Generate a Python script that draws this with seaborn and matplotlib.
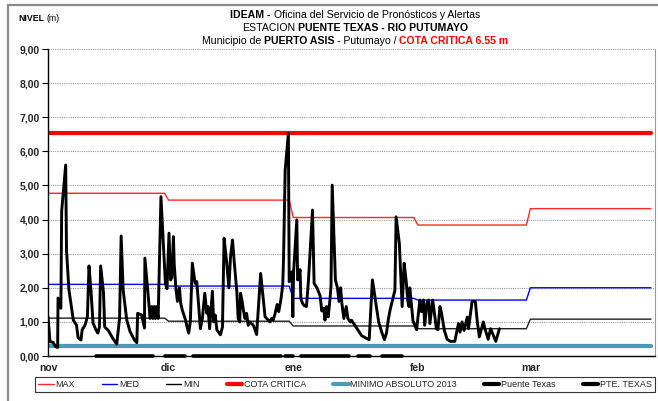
import numpy as np
import pandas as pd
import matplotlib
matplotlib.use("Agg")
import matplotlib.pyplot as plt
import matplotlib.dates as mdates
from matplotlib.lines import Line2D
from matplotlib.patches import Rectangle
import seaborn as sns

# ---------------- data ----------------
inicio = pd.Timestamp("2013-11-01")
fin = pd.Timestamp("2014-04-01")

# monthly reference levels (Oct..Mar)
meses = ["2013-10", "2013-11", "2013-12", "2014-01", "2014-02", "2014-03"]
nivel_max = [4.60, 4.77, 4.57, 4.06, 3.84, 4.32]
nivel_med = [2.00, 2.10, 2.05, 1.69, 1.64, 2.00]
nivel_min = [1.15, 1.11, 1.02, 0.88, 0.80, 1.08]

cota_critica = 6.55
minimo_absoluto_2013 = 0.30

# axis month labels
meses_eje = ["2013-11-01", "2013-12-01", "2014-01-01", "2014-02-01", "2014-03-01"]
etiquetas_eje = ["nov", "dic", "ene", "feb", "mar"]

# station readings: day offset from 1 Nov 2013 and level (m)
dia_lectura = [
    0.0, 0.5, 1.3, 1.8, 2.4, 2.5, 3.2, 3.4, 4.4, 4.6, 5.2, 6.3, 7.1, 7.5, 8.2,
    8.5, 9.2, 9.8, 10.2, 10.7, 11.2, 11.9, 12.4, 12.8, 13.1, 13.8, 14.1, 15.0,
    16.2, 17.1, 17.8, 18.2, 18.7, 19.6, 20.4, 21.5, 22.1, 22.3, 23.3, 24.0,
    24.1, 24.8, 25.4, 25.8, 26.1, 26.4, 26.7, 27.0, 27.4, 28.1, 28.9, 29.2,
    29.6, 30.1, 30.5, 30.8, 31.2, 31.4, 31.8, 32.2, 32.7, 33.0, 33.4, 34.2,
    34.6, 35.0, 35.4, 35.9, 36.6, 37.0, 37.5, 37.9, 38.4, 39.0, 39.5, 39.8,
    40.2, 40.9, 41.2, 41.6, 42.0, 42.9, 43.4, 43.8, 44.4, 45.0, 45.4, 45.9,
    46.3, 47.0, 47.3, 47.7, 47.9, 48.3, 48.6, 49.0, 49.4, 49.8, 50.1, 51.1,
    51.9, 52.9, 53.4, 54.0, 54.8, 55.2, 55.6, 56.0, 56.4, 57.0, 57.4, 57.7,
    58.0, 58.4, 58.6, 59.0, 59.8, 60.0, 60.4, 60.7, 60.9, 61.1, 61.9, 62.1,
    62.4, 62.7, 62.9, 63.3, 63.7, 64.3, 64.8, 65.8, 66.2, 66.9, 67.7, 68.1,
    68.6, 68.9, 69.3, 69.7, 70.1, 70.4, 70.7, 71.5, 72.0, 72.4, 72.8, 73.1,
    73.6, 74.2, 74.6, 75.2, 75.5, 76.9, 78.0, 79.0, 79.9, 80.7, 81.2, 81.8,
    82.3, 83.1, 83.7, 84.2, 84.7, 85.1, 85.9, 86.3, 86.6, 87.4, 88.1, 88.6,
    89.1, 89.5, 89.8, 90.0, 90.8, 91.7, 92.5, 92.9, 93.4, 93.7, 94.3, 94.7,
    95.0, 95.7, 96.3, 96.6, 97.0, 97.5, 97.9, 98.6, 99.3, 100.1, 101.2, 102.1,
    102.5, 103.0, 103.5, 104.3, 104.6, 105.5, 106.3, 106.8, 107.3, 108.3,
    108.7, 109.5, 110.1, 111.4, 112.3,
]
nivel_puente = [
    1.15, 0.42, 0.40, 0.28, 0.25, 1.70, 1.40, 4.25, 5.60, 3.10, 1.95, 1.05, 0.90, 0.53, 0.47,
    0.77, 0.90, 1.15, 2.64, 1.90, 0.97, 0.77, 0.67, 0.85, 2.64, 1.87, 0.85, 0.75,
    0.50, 0.35, 1.10, 3.52, 1.93, 1.05, 0.72, 0.47, 0.39, 1.25, 1.20, 0.82,
    2.87, 1.95, 1.10, 1.45, 1.10, 1.45, 1.10, 1.45, 1.10, 4.67, 2.80, 2.13,
    1.97, 3.60, 2.23, 2.30, 3.50, 2.70, 2.00, 1.60, 2.00, 1.55, 1.35, 1.06,
    0.85, 0.67, 1.00, 2.72, 2.13, 2.18, 1.45, 0.80, 1.10, 1.84, 1.25, 1.45,
    0.80, 1.90, 1.00, 1.20, 0.77, 0.62, 0.85, 3.45, 2.80, 2.00, 2.90, 3.40,
    2.80, 1.84, 1.10, 1.00, 1.84, 1.60, 1.35, 1.10, 1.25, 0.90, 1.00, 0.90,
    0.63, 2.42, 1.84, 1.15, 1.05, 1.00, 1.10, 1.05, 1.20, 1.51, 1.30, 1.50,
    1.70, 2.10, 2.90, 5.45, 6.53, 2.18, 2.42, 2.47, 1.15, 2.47, 3.99, 2.23,
    2.30, 2.53, 1.68, 1.55, 1.48, 1.45, 2.23, 4.28, 2.13, 2.00, 1.76, 1.32,
    1.40, 1.05, 1.45, 1.15, 1.60, 2.05, 5.01, 2.23, 2.00, 1.60, 2.00, 1.55,
    1.10, 1.45, 1.10, 1.00, 1.05, 0.80, 0.60, 0.53, 0.48, 2.23, 1.84, 1.35,
    0.98, 0.67, 0.48, 0.67, 1.10, 1.35, 1.73, 1.93, 4.08, 3.30, 1.45, 2.72,
    2.20, 1.62, 1.45, 2.00, 1.03, 0.77, 1.64, 1.30, 1.64, 0.90, 1.58, 1.64,
    0.95, 1.64, 1.10, 0.80, 0.77, 1.45, 1.25, 0.75, 0.49, 0.43, 0.43, 0.95,
    0.70, 1.00, 0.75, 1.14, 0.80, 1.60, 1.60, 1.00, 0.56, 1.00,
    0.80, 0.49, 0.80, 0.43, 0.80,
]

# days logged with zero level for the PTE. TEXAS gauge
pte_texas_periodos = [
    ("2013-11-13", "2013-11-27"), ("2013-11-30", "2013-12-05"),
    ("2013-12-07", "2013-12-29"), ("2013-12-30", "2014-01-01"),
    ("2014-01-03", "2014-01-15"), ("2014-01-17", "2014-01-20"),
    ("2014-01-23", "2014-01-28"),
]

# ---------------- tables ----------------
dias = pd.date_range("2013-10-31", "2014-03-31", freq="D")
periodo = dias.to_period("M").astype(str)
ref = pd.DataFrame({"fecha": dias})
ref["MAX"] = periodo.map(dict(zip(meses, nivel_max)))
ref["MED"] = periodo.map(dict(zip(meses, nivel_med)))
ref["MIN"] = periodo.map(dict(zip(meses, nivel_min)))
ref["COTA"] = cota_critica
ref["MINABS"] = minimo_absoluto_2013

lecturas = pd.DataFrame({
    "fecha": inicio + pd.to_timedelta(np.array(dia_lectura), unit="D"),
    "nivel": nivel_puente,
})

tramos = []
for i, (a, b) in enumerate(pte_texas_periodos):
    f = pd.date_range(a, b, freq="D")
    tramos.append(pd.DataFrame({"fecha": f, "nivel": 0.0, "tramo": i}))
pte = pd.concat(tramos, ignore_index=True)

# ---------------- figure ----------------
sns.set_theme(style="white")
plt.rcParams["font.family"] = ["Liberation Sans", "DejaVu Sans"]

W, H = 658, 401
fig = plt.figure(figsize=(W / 100, H / 100), dpi=100)
fig.patch.set_facecolor("white")

# outer frame
fig.add_artist(Rectangle((8 / W, -0.05), 1.1, 1 - 5 / H + 0.05, transform=fig.transFigure,
                         fill=False, edgecolor="#8a8a8a", lw=1.6))

ax = fig.add_axes([48 / W, 45 / H, 607 / W, 307 / H])
ax.set_facecolor("white")

c_teal = "#4a9bb5"
sns.lineplot(data=ref, x="fecha", y="MINABS", ax=ax, color=c_teal, lw=3.0, legend=False)
sns.lineplot(data=ref, x="fecha", y="COTA", ax=ax, color="#ff0000", lw=3.0, legend=False)
sns.lineplot(data=ref, x="fecha", y="MAX", ax=ax, color="#ff2828", lw=1.0, legend=False)
sns.lineplot(data=ref, x="fecha", y="MED", ax=ax, color="#0000ff", lw=1.0, legend=False)
sns.lineplot(data=ref, x="fecha", y="MIN", ax=ax, color="#202020", lw=1.0, legend=False)
sns.lineplot(data=lecturas, x="fecha", y="nivel", ax=ax, color="black", lw=2.1,
             sort=False, estimator=None, legend=False)
n_antes = len(ax.lines)
sns.lineplot(data=pte, x="fecha", y="nivel", units="tramo", ax=ax, color="black", lw=2.6,
             estimator=None, legend=False)
for ln in ax.lines[n_antes:]:
    ln.set_clip_on(False)

ax.set_xlim(inicio, fin)
ax.set_ylim(0, 9)
ax.set_xlabel("")
ax.set_ylabel("")

ax.set_yticks(np.arange(0, 10, 1))
ax.yaxis.set_major_formatter(plt.FuncFormatter(lambda v, p: f"{v:.2f}".replace(".", ",")))
ax.set_xticks(pd.to_datetime(meses_eje))
ax.set_xticklabels(etiquetas_eje)
ax.tick_params(axis="y", which="major", direction="out", length=4, width=0.8,
               color="black", labelsize=7.5, pad=2, left=True)
ax.tick_params(axis="x", which="major", direction="out", length=0, labelsize=7.5, pad=5)
for lab in ax.get_yticklabels() + ax.get_xticklabels():
    lab.set_fontweight("bold")

ax.yaxis.grid(True, linestyle=(0, (1, 1)), color="#9a9a9a", lw=0.8)
ax.xaxis.grid(False)
ax.spines["top"].set_visible(False)
ax.spines["right"].set_color("#9a9a9a")
ax.spines["right"].set_linewidth(0.8)
ax.spines["left"].set_color("black")
ax.spines["bottom"].set_color("black")
ax.spines["left"].set_linewidth(1.0)
ax.spines["bottom"].set_linewidth(1.0)

# ---------------- titles ----------------
renderer = fig.canvas.get_renderer()


def linea_rica(y_px, partes, size, cx_px=355):
    probe = fig.text(0, 0, "x x", fontsize=size)
    probe2 = fig.text(0, 0, "xx", fontsize=size)
    esp = probe.get_window_extent(renderer).width - probe2.get_window_extent(renderer).width
    probe.remove()
    probe2.remove()
    items = []
    for txt, peso, col in partes:
        t = fig.text(0, 1 - y_px / H, txt, fontsize=size, fontweight=peso, color=col,
                     ha="left", va="baseline")
        items.append((t, t.get_window_extent(renderer).width))
    total = sum(w for _, w in items) + esp * (len(items) - 1)
    x = cx_px - total / 2
    for t, w in items:
        t.set_x(x / W)
        x += w + esp


linea_rica(18, [("IDEAM -", "bold", "black"),
                ("Oficina del Servicio de Pronósticos y Alertas", "normal", "black")], 7.6)
linea_rica(31, [("ESTACION", "normal", "black"),
                ("PUENTE TEXAS - RIO PUTUMAYO", "bold", "black")], 7.6)
linea_rica(44, [("Municipio de", "normal", "black"), ("PUERTO ASIS", "bold", "black"),
                ("- Putumayo /", "normal", "black"), ("COTA CRITICA 6.55 m", "bold", "#ff0000")], 7.6)
linea_rica(21, [("NIVEL", "bold", "black"), ("(m)", "normal", "black")], 6.3, cx_px=39)

# ---------------- legend ----------------
handles = [
    Line2D([], [], color="#ff2828", lw=1.0),
    Line2D([], [], color="#0000ff", lw=1.0),
    Line2D([], [], color="black", lw=1.0),
    Line2D([], [], color="#ff0000", lw=3.0),
    Line2D([], [], color=c_teal, lw=3.0),
    Line2D([], [], color="black", lw=3.0),
    Line2D([], [], color="black", lw=3.0),
]
labels = ["MAX", "MED", "MIN", "COTA CRITICA", "MINIMO ABSOLUTO 2013", "Puente Texas", "PTE. TEXAS"]
leg = fig.legend(handles, labels, loc="lower left", ncol=7, mode="expand",
                 bbox_to_anchor=(35 / W, 9 / H, 620 / W, 19 / H), fontsize=6.5,
                 frameon=True, fancybox=False, handlelength=1.7, handletextpad=0.2,
                 columnspacing=0.5, borderaxespad=0, borderpad=0.35)
leg.get_frame().set_edgecolor("black")
leg.get_frame().set_linewidth(0.8)

fig.savefig("out.png", dpi=100, facecolor="white")
